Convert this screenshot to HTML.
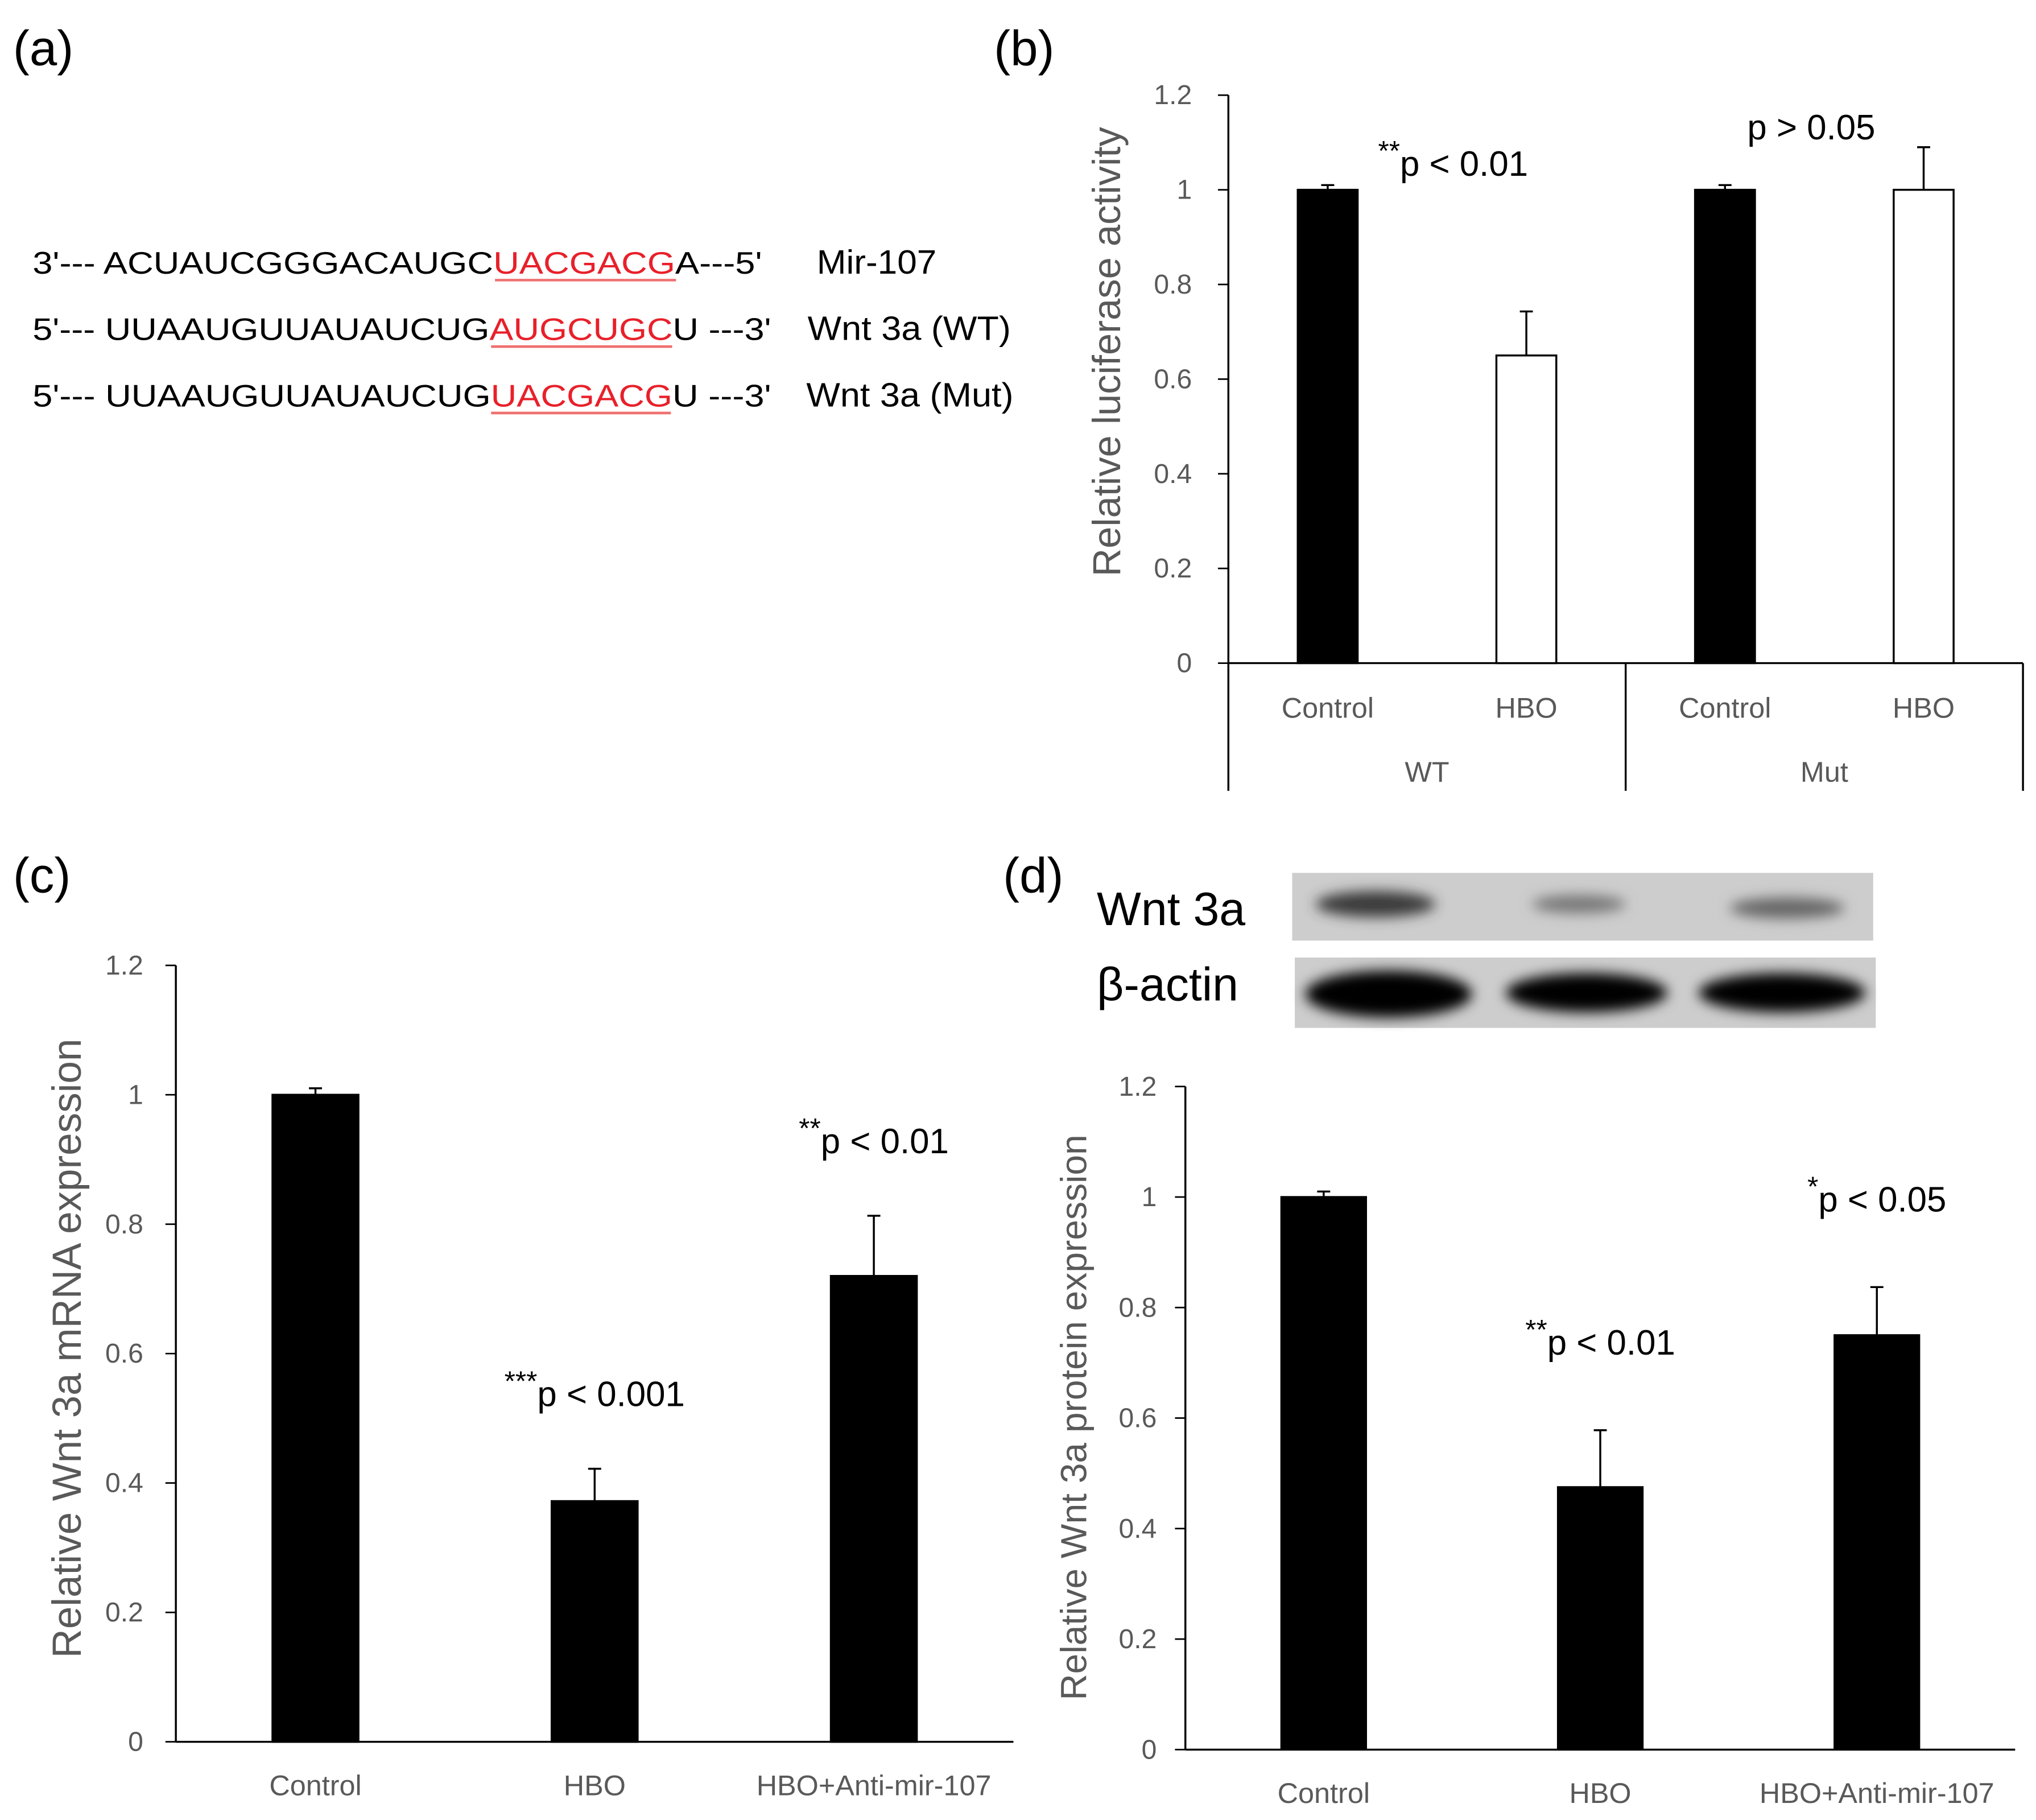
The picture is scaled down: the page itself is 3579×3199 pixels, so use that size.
<!DOCTYPE html>
<html><head><meta charset="utf-8"><style>html,body{margin:0;padding:0;background:#fff}svg{display:block}</style></head>
<body>
<svg id="fig" width="3579" height="3199" viewBox="0 0 1563 1397" xmlns="http://www.w3.org/2000/svg" font-family="Liberation Sans, sans-serif">
<defs>
<filter id="blur" x="-30%" y="-80%" width="160%" height="260%"><feGaussianBlur stdDeviation="5"/></filter>
</defs>
<g font-size="24" fill="#000">
<text x="10" y="50" font-size="38">(a)</text>
<text x="25" y="210" textLength="560" lengthAdjust="spacingAndGlyphs">3'--- ACUAUCGGGACAUGC<tspan fill="#e8202a">UACGACG</tspan>A---5'</text>
<line x1="380" y1="215" x2="519" y2="215" stroke="#f07070" stroke-width="2"/>
<text x="627" y="210" font-size="26" textLength="92" lengthAdjust="spacingAndGlyphs">Mir-107</text>
<text x="25" y="261" textLength="567" lengthAdjust="spacingAndGlyphs">5'--- UUAAUGUUAUAUCUG<tspan fill="#e8202a">AUGCUGC</tspan>U ---3'</text>
<line x1="377" y1="266" x2="516" y2="266" stroke="#f07070" stroke-width="2"/>
<text x="620" y="261" font-size="26" textLength="156" lengthAdjust="spacingAndGlyphs">Wnt 3a (WT)</text>
<text x="25" y="312" textLength="567" lengthAdjust="spacingAndGlyphs">5'--- UUAAUGUUAUAUCUG<tspan fill="#e8202a">UACGACG</tspan>U ---3'</text>
<line x1="377" y1="317" x2="515" y2="317" stroke="#f07070" stroke-width="2"/>
<text x="619" y="312" font-size="26" textLength="159" lengthAdjust="spacingAndGlyphs">Wnt 3a (Mut)</text>
</g>
<text x="763" y="50" font-size="38">(b)</text>
<text x="10" y="685" font-size="38">(c)</text>
<text x="770" y="685" font-size="38">(d)</text>
<g>
<text x="842" y="710" font-size="36">Wnt 3a</text>
<text x="842" y="768" font-size="36">β-actin</text>
<rect x="992" y="670" width="446" height="52" fill="#cdcdcd"/>
<ellipse cx="1056" cy="694" rx="46" ry="10" fill="#3a3a3a" filter="url(#blur)"/>
<ellipse cx="1212" cy="694" rx="36" ry="7" fill="#777" filter="url(#blur)"/>
<ellipse cx="1372" cy="697" rx="44" ry="8" fill="#666" filter="url(#blur)"/>
<rect x="994" y="735" width="446" height="54" fill="#cdcdcd"/>
<ellipse cx="1066" cy="763" rx="64" ry="18" fill="#000" filter="url(#blur)"/>
<ellipse cx="1218" cy="762" rx="62" ry="15" fill="#000" filter="url(#blur)"/>
<ellipse cx="1368" cy="762" rx="64" ry="15" fill="#000" filter="url(#blur)"/>
</g>
<g id="chartB"></g>
<g id="chartC"></g>
<g id="chartD"></g>
<script>
const ticks=["0","0.2","0.4","0.6","0.8","1","1.2"];
const bCats=["Control","HBO","Control","HBO"];
const bGroups=["WT","Mut"];
const bVals=[1,0.65,1,1];
const bErr=[0.01,0.093,0.01,0.09];
const bFill=["#000","#fff","#000","#fff"];
const bAnn=["**p < 0.01","p > 0.05"];
const cCats=["Control","HBO","HBO+Anti-mir-107"];
const cVals=[1,0.372,0.72];
const cErr=[0.01,0.05,0.093];
const cAnn=["","***p < 0.001","**p < 0.01"];
const dCats=["Control","HBO","HBO+Anti-mir-107"];
const dVals=[1,0.475,0.75];
const dErr=[0.01,0.103,0.087];
const dAnn=["","**p < 0.01","*p < 0.05"];
const NS="http://www.w3.org/2000/svg";
function mk(p,t,a){const e=document.createElementNS(NS,t);for(const k in a)e.setAttribute(k,a[k]);p.appendChild(e);return e;}
function txt(p,x,y,s,size,fill,anchor){const e=mk(p,"text",{x:x,y:y,"font-size":size,fill:fill,"text-anchor":anchor||"middle"});
if(s.startsWith("*")){const m=s.match(/^(\*+)(.*)$/);const t1=mk(e,"tspan",{"baseline-shift":"super","font-size":size*0.8});t1.textContent=m[1];const t2=mk(e,"tspan",{});t2.textContent=m[2];}else e.textContent=s;return e;}
function chart(g,o){
 const y=v=>o.y0-(v/1.2)*(o.y0-o.y1);
 const ax=mk(g,"line",{x1:o.x0,y1:o.y1,x2:o.x0,y2:o.y0,stroke:"#000","stroke-width":1.5});
 
 
 ticks.forEach((t,i)=>{const v=parseFloat(t);
  const tl=txt(g,o.x0-o.tickOff,y(v)+7,t,21,"#595959","end");
  
  
  mk(g,"line",{x1:o.x0-8,y1:y(v),x2:o.x0,y2:y(v),stroke:"#000","stroke-width":1.2});});
 const xl=mk(g,"line",{x1:o.x0,y1:o.y0,x2:o.xEnd,y2:o.y0,stroke:"#000","stroke-width":1.5});
 
 
 const step=(o.xEnd-o.x0)/o.cats.length;
 o.vals.forEach((v,i)=>{const cx=o.x0+step*(i+0.5);
  const r=mk(g,"rect",{x:cx-o.bw/2,y:y(v),width:o.bw,height:o.y0-y(v),fill:o.fill?o.fill[i]:"#000",stroke:"#000","stroke-width":1.5});
  
  
  const et=y(v+o.err[i]);
  const el=mk(g,"path",{d:`M${cx} ${y(v)}V${et}M${cx-5} ${et}H${cx+5}`,stroke:"#000","stroke-width":1.5,fill:"none"});
  
  
  const lb=txt(g,cx,o.labY,o.cats[i],22,"#595959");
  
  
  if(o.ann&&o.ann[i]){const a=txt(g,cx+o.annDx,et-o.annDy,o.ann[i],27,"#000");
   
   }
 });
 const tt=mk(g,"text",{x:o.tx,y:o.ty,"font-size":o.tsize,fill:"#595959","text-anchor":"middle",transform:`rotate(-90 ${o.tx} ${o.ty})`});
 tt.textContent=o.title;
 
 
 return {y,step};
}
const gb=document.getElementById("chartB");
chart(gb,{x0:943,y0:509,y1:73,xEnd:1553,cats:bCats,vals:bVals,err:bErr,fill:bFill,bw:46,labY:551,tickOff:28,title:"Relative luciferase activity",tx:860,ty:270,tsize:30,annDx:0,annDy:0});
for(let k=0;k<=2;k++){mk(gb,"line",{x1:943+305*k,y1:509,x2:943+305*k,y2:607,stroke:"#000","stroke-width":1.5});}
bGroups.forEach((gname,i)=>{const t=txt(gb,943+305*(i+0.5),600,gname,22,"#595959");
 
 });
bAnn.forEach((a,i)=>{const t=txt(gb,943+305*(i+0.5)+(i?-10:20),i?107:135,a,27,"#000");
 
 });
chart(document.getElementById("chartC"),{x0:135,y0:1337,y1:741,xEnd:778,cats:cCats,vals:cVals,err:cErr,bw:66,labY:1378,tickOff:25,title:"Relative Wnt 3a mRNA expression",tx:62,ty:1035,tsize:31,ann:cAnn,annDx:0,annDy:48});
chart(document.getElementById("chartD"),{x0:910,y0:1343,y1:834,xEnd:1547,cats:dCats,vals:dVals,err:dErr,bw:65,labY:1384,tickOff:22,title:"Relative Wnt 3a protein expression",tx:834,ty:1088,tsize:28,ann:dAnn,annDx:0,annDy:58});
</script>
</svg>
</body></html>
